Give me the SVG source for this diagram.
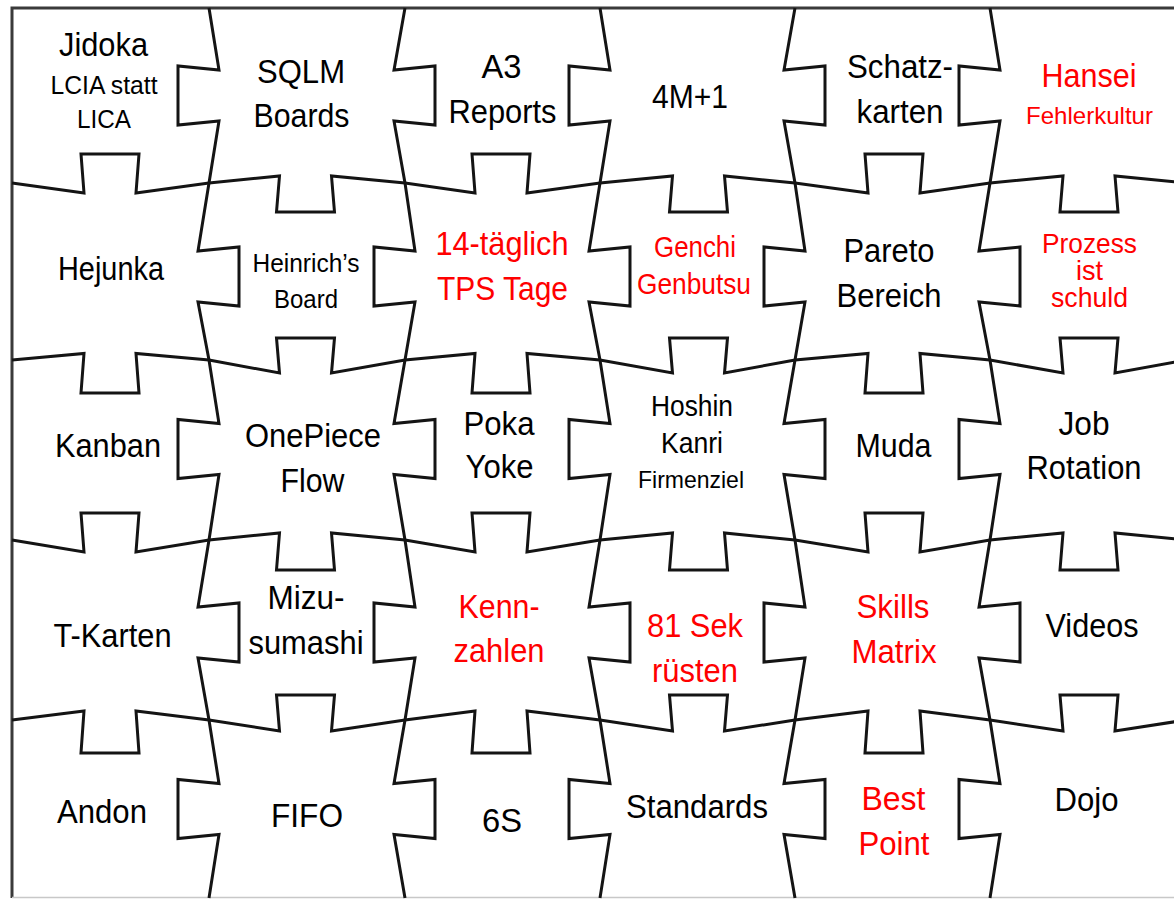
<svg xmlns="http://www.w3.org/2000/svg" width="1174" height="899" viewBox="0 0 1174 899">
<style>
.cut{fill:none;stroke:#141414;stroke-width:3;stroke-linejoin:miter;stroke-miterlimit:10}
.frame{fill:none;stroke:#3a3a3a;stroke-width:3}
text{font-family:"Liberation Sans",Arial,sans-serif;text-anchor:middle;fill:#000}
.b{font-size:34px}
.m{font-size:29px}
.p{font-size:28px}
.s{font-size:26px}
.xs{font-size:24px}
.r{fill:#ff0000}
</style>
<rect x="0" y="0" width="1174" height="899" fill="#fff"/>
<g id="connectors">
<path class="frame" d="M12,898 L12,8 L1174,8"/>
<path d="M12,897.5 L1174,897.5" fill="none" stroke="#c8c8c8" stroke-width="1.5"/>
<path class="cut" d="M209,8 L219,70 L178,66 L178,125 L219,121 L209,183 L198,251 L239,247 L239,306 L198,302 L209,360 L219,423.5 L178,419.5 L178,478.5 L219,474.5 L209,540 L198,607 L239,603 L239,662 L198,658 L209,720 L219,783.5 L178,779.5 L178,838.5 L219,834.5 L209,898"/>
<path class="cut" d="M405,8 L394,70 L435,66 L435,125 L394,121 L405,183 L415,251 L374,247 L374,306 L415,302 L405,360 L394,423.5 L435,419.5 L435,478.5 L394,474.5 L405,540 L415,607 L374,603 L374,662 L415,658 L405,720 L394,783.5 L435,779.5 L435,838.5 L394,834.5 L405,898"/>
<path class="cut" d="M600,8 L610,70 L569,66 L569,125 L610,121 L600,183 L589,251 L630,247 L630,306 L589,302 L600,360 L610,423.5 L569,419.5 L569,478.5 L610,474.5 L600,540 L589,607 L630,603 L630,662 L589,658 L600,720 L610,783.5 L569,779.5 L569,838.5 L610,834.5 L600,898"/>
<path class="cut" d="M795,8 L784,70 L825,66 L825,125 L784,121 L795,183 L805,251 L764,247 L764,306 L805,302 L795,360 L784,423.5 L825,419.5 L825,478.5 L784,474.5 L795,540 L805,607 L764,603 L764,662 L805,658 L795,720 L784,783.5 L825,779.5 L825,838.5 L784,834.5 L795,898"/>
<path class="cut" d="M990,8 L1000,70 L959,66 L959,125 L1000,121 L990,183 L979,251 L1020,247 L1020,306 L979,302 L990,360 L1000,423.5 L959,419.5 L959,478.5 L1000,474.5 L990,540 L979,607 L1020,603 L1020,662 L979,658 L990,720 L1000,783.5 L959,779.5 L959,838.5 L1000,834.5 L990,898"/>
<path class="cut" d="M12,183 L84,193 L81,154 L139,154 L136,193 L209,183 L279.5,176 L276.5,212 L334.5,212 L331.5,176 L405,183 L475,193 L472,154 L530,154 L527,193 L600,183 L672.5,176 L669.5,212 L727.5,212 L724.5,176 L795,183 L868,193 L865,154 L923,154 L920,193 L990,183 L1063,176 L1060,212 L1118,212 L1115,176 L1186,183"/>
<path class="cut" d="M12,360 L84,353.5 L81,393 L139,393 L136,353.5 L209,360 L279.5,373 L276.5,338 L334.5,338 L331.5,373 L405,360 L475,353.5 L472,393 L530,393 L527,353.5 L600,360 L672.5,373 L669.5,338 L727.5,338 L724.5,373 L795,360 L868,353.5 L865,393 L923,393 L920,353.5 L990,360 L1063,373 L1060,338 L1118,338 L1115,373 L1186,360"/>
<path class="cut" d="M12,540 L84,552 L81,513 L139,513 L136,552 L209,540 L279.5,533 L276.5,570 L334.5,570 L331.5,533 L405,540 L475,552 L472,513 L530,513 L527,552 L600,540 L672.5,533 L669.5,570 L727.5,570 L724.5,533 L795,540 L868,552 L865,513 L923,513 L920,552 L990,540 L1063,533 L1060,570 L1118,570 L1115,533 L1186,540"/>
<path class="cut" d="M12,720 L84,711 L81,753 L139,753 L136,711 L209,720 L279.5,731 L276.5,695 L334.5,695 L331.5,731 L405,720 L475,711 L472,753 L530,753 L527,711 L600,720 L672.5,731 L669.5,695 L727.5,695 L724.5,731 L795,720 L868,711 L865,753 L923,753 L920,711 L990,720 L1063,731 L1060,695 L1118,695 L1115,731 L1186,720"/>
</g>
<g id="p11"><text class="b" x="103.5" y="56" textLength="89" lengthAdjust="spacingAndGlyphs">Jidoka</text><text class="s" x="104" y="94" textLength="107" lengthAdjust="spacingAndGlyphs">LCIA statt</text><text class="s" x="104" y="128" textLength="54" lengthAdjust="spacingAndGlyphs">LICA</text></g>
<g id="p12"><text class="b" x="301" y="83" textLength="88" lengthAdjust="spacingAndGlyphs">SQLM</text><text class="b" x="301.5" y="127" textLength="96" lengthAdjust="spacingAndGlyphs">Boards</text></g>
<g id="p13"><text class="b" x="501.5" y="78" textLength="40" lengthAdjust="spacingAndGlyphs">A3</text><text class="b" x="502.5" y="123" textLength="108" lengthAdjust="spacingAndGlyphs">Reports</text></g>
<g id="p14"><text class="b" x="690" y="108" textLength="76" lengthAdjust="spacingAndGlyphs">4M+1</text></g>
<g id="p15"><text class="b" x="900" y="78" textLength="106" lengthAdjust="spacingAndGlyphs">Schatz-</text><text class="b" x="900" y="123" textLength="87" lengthAdjust="spacingAndGlyphs">karten</text></g>
<g id="p16"><text class="b r" x="1089" y="87" textLength="95" lengthAdjust="spacingAndGlyphs">Hansei</text><text class="xs r" x="1089.5" y="124" textLength="127" lengthAdjust="spacingAndGlyphs">Fehlerkultur</text></g>
<g id="p21"><text class="b" x="111" y="280" textLength="106" lengthAdjust="spacingAndGlyphs">Hejunka</text></g>
<g id="p22"><text class="s" x="306" y="272" textLength="107" lengthAdjust="spacingAndGlyphs">Heinrich’s</text><text class="s" x="306" y="308" textLength="64" lengthAdjust="spacingAndGlyphs">Board</text></g>
<g id="p23"><text class="b r" x="502" y="255" textLength="133" lengthAdjust="spacingAndGlyphs">14-täglich</text><text class="b r" x="502.5" y="300" textLength="131" lengthAdjust="spacingAndGlyphs">TPS Tage</text></g>
<g id="p24"><text class="m r" x="695" y="257" textLength="82" lengthAdjust="spacingAndGlyphs">Genchi</text><text class="m r" x="694" y="294" textLength="114" lengthAdjust="spacingAndGlyphs">Genbutsu</text></g>
<g id="p25"><text class="b" x="889" y="262" textLength="91" lengthAdjust="spacingAndGlyphs">Pareto</text><text class="b" x="889" y="307" textLength="105" lengthAdjust="spacingAndGlyphs">Bereich</text></g>
<g id="p26"><text class="p r" x="1089.5" y="253" textLength="95" lengthAdjust="spacingAndGlyphs">Prozess</text><text class="p r" x="1089.5" y="280" textLength="27" lengthAdjust="spacingAndGlyphs">ist</text><text class="p r" x="1089.5" y="307" textLength="77" lengthAdjust="spacingAndGlyphs">schuld</text></g>
<g id="p31"><text class="b" x="108" y="457" textLength="106" lengthAdjust="spacingAndGlyphs">Kanban</text></g>
<g id="p32"><text class="b" x="313" y="447" textLength="136" lengthAdjust="spacingAndGlyphs">OnePiece</text><text class="b" x="312.5" y="492" textLength="64" lengthAdjust="spacingAndGlyphs">Flow</text></g>
<g id="p33"><text class="b" x="499" y="435" textLength="71" lengthAdjust="spacingAndGlyphs">Poka</text><text class="b" x="499.5" y="478" textLength="68" lengthAdjust="spacingAndGlyphs">Yoke</text></g>
<g id="p34"><text class="m" x="692" y="416" textLength="82" lengthAdjust="spacingAndGlyphs">Hoshin</text><text class="m" x="692" y="453" textLength="62" lengthAdjust="spacingAndGlyphs">Kanri</text><text class="xs" x="691" y="488" textLength="106" lengthAdjust="spacingAndGlyphs">Firmenziel</text></g>
<g id="p35"><text class="b" x="893.5" y="457" textLength="76" lengthAdjust="spacingAndGlyphs">Muda</text></g>
<g id="p36"><text class="b" x="1084" y="435" textLength="51" lengthAdjust="spacingAndGlyphs">Job</text><text class="b" x="1084" y="479" textLength="115" lengthAdjust="spacingAndGlyphs">Rotation</text></g>
<g id="p41"><text class="b" x="112.5" y="647" textLength="118" lengthAdjust="spacingAndGlyphs">T-Karten</text></g>
<g id="p42"><text class="b" x="306" y="609" textLength="77" lengthAdjust="spacingAndGlyphs">Mizu-</text><text class="b" x="306" y="654" textLength="115" lengthAdjust="spacingAndGlyphs">sumashi</text></g>
<g id="p43"><text class="b r" x="499" y="618" textLength="81" lengthAdjust="spacingAndGlyphs">Kenn-</text><text class="b r" x="499" y="662" textLength="91" lengthAdjust="spacingAndGlyphs">zahlen</text></g>
<g id="p44"><text class="b r" x="695" y="637" textLength="96" lengthAdjust="spacingAndGlyphs">81 Sek</text><text class="b r" x="695" y="682" textLength="86" lengthAdjust="spacingAndGlyphs">rüsten</text></g>
<g id="p45"><text class="b r" x="893" y="618" textLength="73" lengthAdjust="spacingAndGlyphs">Skills</text><text class="b r" x="894" y="663" textLength="85" lengthAdjust="spacingAndGlyphs">Matrix</text></g>
<g id="p46"><text class="b" x="1092" y="637" textLength="93" lengthAdjust="spacingAndGlyphs">Videos</text></g>
<g id="p51"><text class="b" x="102" y="823" textLength="90" lengthAdjust="spacingAndGlyphs">Andon</text></g>
<g id="p52"><text class="b" x="307" y="827" textLength="72" lengthAdjust="spacingAndGlyphs">FIFO</text></g>
<g id="p53"><text class="b" x="502" y="832" textLength="40" lengthAdjust="spacingAndGlyphs">6S</text></g>
<g id="p54"><text class="b" x="697" y="818" textLength="142" lengthAdjust="spacingAndGlyphs">Standards</text></g>
<g id="p55"><text class="b r" x="893.5" y="810" textLength="64" lengthAdjust="spacingAndGlyphs">Best</text><text class="b r" x="894" y="855" textLength="71" lengthAdjust="spacingAndGlyphs">Point</text></g>
<g id="p56"><text class="b" x="1086.5" y="811" textLength="64" lengthAdjust="spacingAndGlyphs">Dojo</text></g>
</svg>
